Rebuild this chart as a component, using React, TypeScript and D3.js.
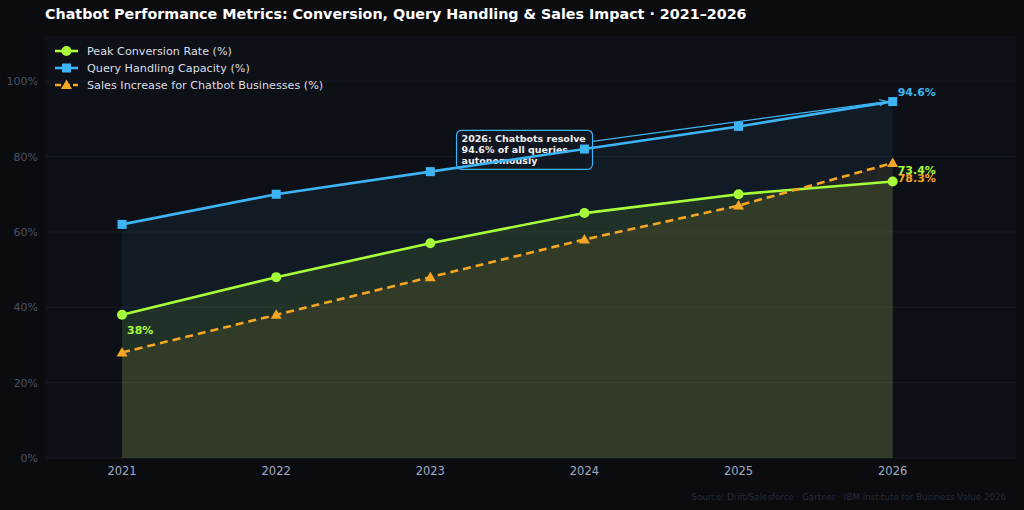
import React from "react";
import * as d3 from "d3";

const years = [2021, 2022, 2023, 2024, 2025, 2026];
const conversionRate = [38, 48, 57, 65, 70, 73.4];
const queryHandling = [62, 70, 76, 82, 88, 94.6];
const salesIncrease = [28, 38, 48, 58, 67, 78.3];
const yTicks = [0, 20, 40, 60, 80, 100];

const W = 1024;
const H = 510;
const M = { left: 45, right: 8, top: 36, bottom: 52 };
const FONT = "'DejaVu Sans', sans-serif";

const GREEN = "#a6ff3a";
const BLUE = "#3db4f5";
const ORANGE = "#f5a623";

type Series = {
  name: string;
  values: number[];
  color: string;
  marker: "circle" | "square" | "triangle";
  dashed: boolean;
  fillOpacity: number;
};

const series: Series[] = [
  { name: "Query Handling Capacity (%)", values: queryHandling, color: BLUE, marker: "square", dashed: false, fillOpacity: 0.07 },
  { name: "Peak Conversion Rate (%)", values: conversionRate, color: GREEN, marker: "circle", dashed: false, fillOpacity: 0.1 },
  { name: "Sales Increase for Chatbot Businesses (%)", values: salesIncrease, color: ORANGE, marker: "triangle", dashed: true, fillOpacity: 0.085 },
];

const legendOrder = [series[1], series[0], series[2]];

function Marker({ kind, x, y, color }: { kind: string; x: number; y: number; color: string }) {
  if (kind === "circle") return <circle cx={x} cy={y} r={5} fill={color} />;
  if (kind === "square") return <rect x={x - 4.5} y={y - 4.5} width={9} height={9} fill={color} />;
  return <path d={`M${x},${y - 5.5}L${x + 5.5},${y + 4}L${x - 5.5},${y + 4}Z`} fill={color} />;
}

export default function App() {
  const x = d3.scaleLinear().domain([2020.5, 2026.8]).range([M.left, W - M.right]);
  const y = d3.scaleLinear().domain([0, 112]).range([H - M.bottom, M.top]);

  const line = d3
    .line<number>()
    .x((_, i) => x(years[i]))
    .y((v) => y(v));
  const area = d3
    .area<number>()
    .x((_, i) => x(years[i]))
    .y0(y(0))
    .y1((v) => y(v));

  // annotation geometry
  const boxX = x(2023.17);
  const boxY = y(87.5) + 2;
  const boxW = 136;
  const boxH = 39;
  const tip = { x: x(2026) - 6, y: y(94.6) };
  const start = { x: boxX + boxW, y: boxY + 11 };
  const ang = Math.atan2(tip.y - start.y, tip.x - start.x);
  const ah = 8;

  return (
    <svg width={W} height={H} style={{ position: "absolute", left: 0, top: 0, background: "#0a0c10" }}>
      <rect x={0} y={0} width={W} height={H} fill="#0a0c10" />
      <text x={45} y={19} fill="#ffffff" fontFamily={FONT} fontWeight="bold" fontSize={14.3}>
        Chatbot Performance Metrics: Conversion, Query Handling &amp; Sales Impact · 2021–2026
      </text>

      <rect x={M.left} y={M.top} width={W - M.left - M.right} height={H - M.top - M.bottom} fill="#0e1017" />

      {yTicks.map((t) => (
        <g key={t}>
          <line x1={M.left} x2={W - M.right} y1={y(t)} y2={y(t)} stroke="#1a1e27" strokeWidth={0.8} />
          <text x={M.left - 7} y={y(t) + 4} textAnchor="end" fill="#4a5163" fontFamily={FONT} fontSize={11}>
            {t}%
          </text>
        </g>
      ))}
      {years.map((yr) => (
        <text key={yr} x={x(yr)} y={H - M.bottom + 17} textAnchor="middle" fill="#a4abc2" fontFamily={FONT} fontSize={11.5}>
          {yr}
        </text>
      ))}

      {series.map((s) => (
        <path key={s.name + "a"} d={area(s.values) ?? ""} fill={s.color} fillOpacity={s.fillOpacity} />
      ))}

      {/* annotation arrow and box, beneath the lines */}
      <line x1={start.x} y1={start.y} x2={tip.x} y2={tip.y} stroke={BLUE} strokeWidth={1.2} />
      <path
        d={`M${tip.x - ah * Math.cos(ang - 0.4)},${tip.y - ah * Math.sin(ang - 0.4)}L${tip.x},${tip.y}L${tip.x - ah * Math.cos(ang + 0.4)},${tip.y - ah * Math.sin(ang + 0.4)}`}
        fill="none"
        stroke={BLUE}
        strokeWidth={1.2}
      />
      <rect x={boxX} y={boxY} width={boxW} height={boxH} rx={5} fill="#121722" fillOpacity={0.85} stroke={BLUE} strokeWidth={1.2} />
      {["2026: Chatbots resolve", "94.6% of all queries", "autonomously"].map((t, i) => (
        <text key={t} x={boxX + 5} y={boxY + 12 + i * 11} fill="#f0f0f0" fontFamily={FONT} fontWeight="bold" fontSize={9.5}>
          {t}
        </text>
      ))}

      {series.map((s) => (
        <g key={s.name}>
          <path
            d={line(s.values) ?? ""}
            fill="none"
            stroke={s.color}
            strokeWidth={2.6}
            strokeDasharray={s.dashed ? "8,5" : undefined}
          />
          {s.values.map((v, i) => (
            <Marker key={i} kind={s.marker} x={x(years[i])} y={y(v)} color={s.color} />
          ))}
        </g>
      ))}

      {/* value labels */}
      <text x={x(2026) + 5} y={y(94.6) - 6} fill={BLUE} fontFamily={FONT} fontWeight="bold" fontSize={11}>
        94.6%
      </text>
      <text x={x(2026) + 5} y={y(78.3) + 11} fill={GREEN} fontFamily={FONT} fontWeight="bold" fontSize={11}>
        73.4%
      </text>
      <text x={x(2026) + 5} y={y(73.4) + 1} fill={ORANGE} fontFamily={FONT} fontWeight="bold" fontSize={11}>
        78.3%
      </text>
      <text x={x(2021) + 5} y={y(38) + 19} fill={GREEN} fontFamily={FONT} fontWeight="bold" fontSize={11}>
        38%
      </text>

      {/* legend */}
      {legendOrder.map((s, i) => {
        const ly = 51 + i * 17;
        return (
          <g key={s.name}>
            <line x1={55} x2={78} y1={ly} y2={ly} stroke={s.color} strokeWidth={2.6} strokeDasharray={s.dashed ? "6,3" : undefined} />
            <Marker kind={s.marker} x={66.5} y={ly} color={s.color} />
            <text x={87} y={ly + 4} fill="#dcdfe6" fontFamily={FONT} fontSize={11.2}>
              {s.name}
            </text>
          </g>
        );
      })}

      <text x={1006} y={500} textAnchor="end" fill="#262b36" fontFamily={FONT} fontSize={8.7}>
        Source: Drift/Salesforce · Gartner · IBM Institute for Business Value 2026
      </text>
    </svg>
  );
}
